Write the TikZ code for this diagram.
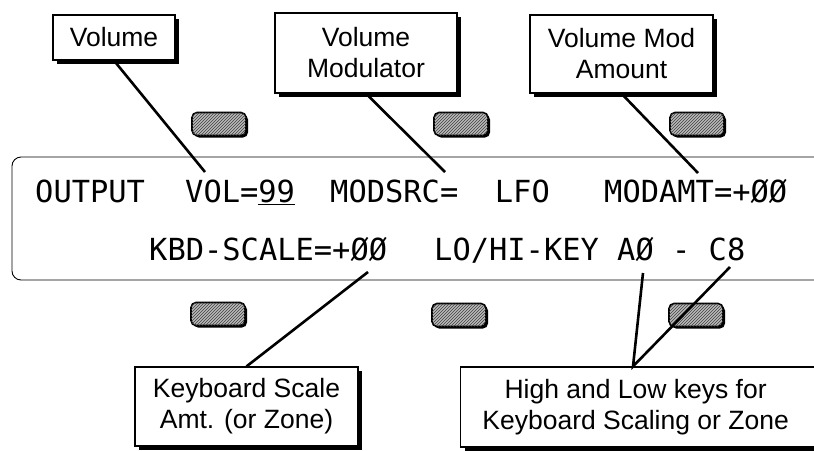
\documentclass[tikz,border=0pt]{standalone}
\usepackage{fontspec}
\setmainfont{Liberation Sans}
\newfontfamily\lcdfont{DejaVu Sans Mono}
\usetikzlibrary{calc, shadows, patterns}

\begin{document}
\begin{tikzpicture}[
  x=1pt, y=-1pt,
  callout/.style={rectangle, draw=black, line width=1.2pt, fill=white, align=center, inner sep=0pt, font=\fontsize{26.5}{31}\selectfont, drop shadow={shadow xshift=4pt, shadow yshift=-4pt, fill=black, opacity=1}},
  keycap/.style={rectangle, rounded corners=5pt, draw=black, line width=1.6pt, minimum width=54pt, minimum height=23pt, fill=gray!55, postaction={pattern=north east lines, pattern color=black!75}, drop shadow={shadow xshift=2pt, shadow yshift=-2pt, fill=black, opacity=1}},
  lcd/.style={anchor=base west, inner sep=0pt, font=\lcdfont\fontsize{30.4}{36}\selectfont},
  leader/.style={line width=2.6pt}
]
\useasboundingbox (0,0) rectangle (814,450);
\clip (0,0) rectangle (814,450);
% display window
\draw [line width=0.9pt, rounded corners=9pt] (830,157) -- (12,157) -- (12,280) -- (830,280);
\node (outlbl) [lcd] at (35,202) {OUTPUT};
\node (vollbl) [lcd] at (185,202) {VOL=\underline{99}};
\node (srclbl) [lcd] at (330,202) {MODSRC=~~LFO};
\node (amtlbl) [lcd] at (604,202) {MODAMT=+ØØ};
\node (scllbl) [lcd] at (149,260) {KBD-SCALE=+ØØ};
\node (keylbl) [lcd] at (434,260) {LO/HI-KEY AØ - C8};
% soft keys
\node (btnA) [keycap] at (219,124) {};
\node (btnB) [keycap] at (461,124) {};
\node (btnC) [keycap] at (697,124) {};
\node (btnD) [keycap] at (218,314) {};
\node (btnE) [keycap] at (459,315) {};
\node (btnF) [keycap] at (696,315) {};
% callouts
\node (vol) [callout, minimum width=122pt, minimum height=45pt] at (114,37.5) {Volume};
\node (volmod) [callout, minimum width=182pt, minimum height=80pt] at (366,53) {Volume\\Modulator};
\node (modamt) [callout, minimum width=183pt, minimum height=78pt] at (621.5,54) {Volume Mod\\Amount};
\node (kbscale) [callout, minimum width=223pt, minimum height=79pt] at (246.5,406.5) {Keyboard Scale\\Amt. (or Zone)};
\node (hilo) [callout, minimum height=80pt, anchor=west] at (460,407) {\parbox{350pt}{\centering High and Low keys for\\Keyboard Scaling or Zone}\hspace*{40pt}};
% leader lines
\coordinate (volpt) at (205,172);
\coordinate (srcpt) at (445,172);
\coordinate (amtpt) at (698,173);
\coordinate (sclpt) at (368,272);
\coordinate (lopt) at (643,273);
\coordinate (hipt) at (730,267);
\draw [leader] (vol.south) -- (volpt);
\draw [leader] (volmod.south) -- (srcpt);
\draw [leader] (modamt.south) -- (amtpt);
\draw [leader] (kbscale.north) -- (sclpt);
\draw [leader] (lopt) -- ($(hilo.north west)+(173,0)$) -- (hipt);
\end{tikzpicture}
\end{document}
